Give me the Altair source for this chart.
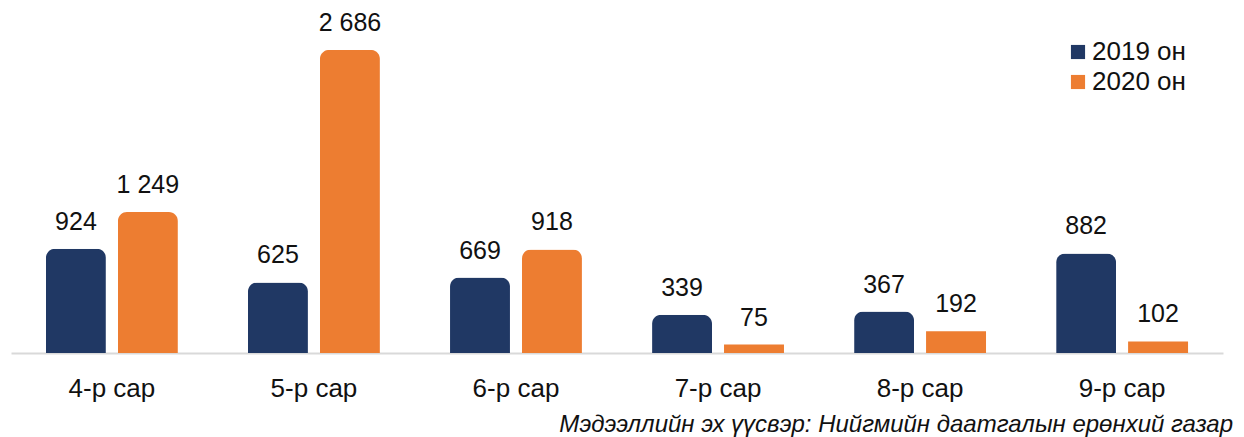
import altair as alt
import pandas as pd

months = ["4-р сар", "5-р сар", "6-р сар", "7-р сар", "8-р сар", "9-р сар"]
values_2019 = [924, 625, 669, 339, 367, 882]
values_2020 = [1249, 2686, 918, 75, 192, 102]
series = ["2019 он", "2020 он"]
colors = ["#203864", "#ED7D31"]
source_text = "Мэдээллийн эх үүсвэр: Нийгмийн даатгалын ерөнхий газар"

rows = []
for m, a, b in zip(months, values_2019, values_2020):
    for s, v in zip(series, (a, b)):
        rows.append({"month": m, "series": s, "value": v,
                     "label": f"{v:,}".replace(",", " ")})
df = pd.DataFrame(rows)

FONT = "Liberation Sans"

x = alt.X("month:N", sort=months, title=None,
          scale=alt.Scale(paddingInner=0.347, paddingOuter=0.173),
          axis=alt.Axis(labelAngle=0, labelFontSize=26, labelColor="#111111",
                        labelFont=FONT, labelPadding=22, ticks=False,
                        domainColor="#D9D9D9", domainWidth=2))
xo = alt.XOffset("series:N", sort=series,
                 scale=alt.Scale(paddingInner=0.167, paddingOuter=0))
y = alt.Y("value:Q", scale=alt.Scale(domain=[0, 3040], nice=False), axis=None)
color = alt.Color("series:N", sort=series,
                  scale=alt.Scale(domain=series, range=colors),
                  legend=alt.Legend(title=None, orient="none", legendX=1054, legendY=29,
                                    symbolType="square", symbolSize=200,
                                    symbolStrokeWidth=0, labelFontSize=26,
                                    labelFont=FONT, labelColor="#111111",
                                    labelOffset=1, rowPadding=4, padding=0))

base = alt.Chart(df).encode(x=x, xOffset=xo, y=y)

bars_big = base.transform_filter("datum.value >= 300").mark_bar(
    cornerRadiusTopLeft=9, cornerRadiusTopRight=9).encode(color=color)
bars_small = base.transform_filter("datum.value < 300").mark_bar().encode(color=color)
labels = base.mark_text(dy=-27, fontSize=25, font=FONT, color="#111111",
                        baseline="middle").encode(text="label:N")

chart = alt.layer(bars_big, bars_small, labels).properties(
    width=1212, height=343,
    padding={"left": 3, "top": 2, "right": 13, "bottom": 84},
    autosize=alt.AutoSizeParams(type="none"),
    title=alt.TitleParams(source_text, orient="bottom", anchor="end",
                          fontSize=24, font=FONT, fontStyle="italic",
                          fontWeight="normal", color="#111111", dx=10, offset=12),
).configure_view(stroke=None)

chart.save("out.html", embed_options={"renderer": "svg", "actions": False})
